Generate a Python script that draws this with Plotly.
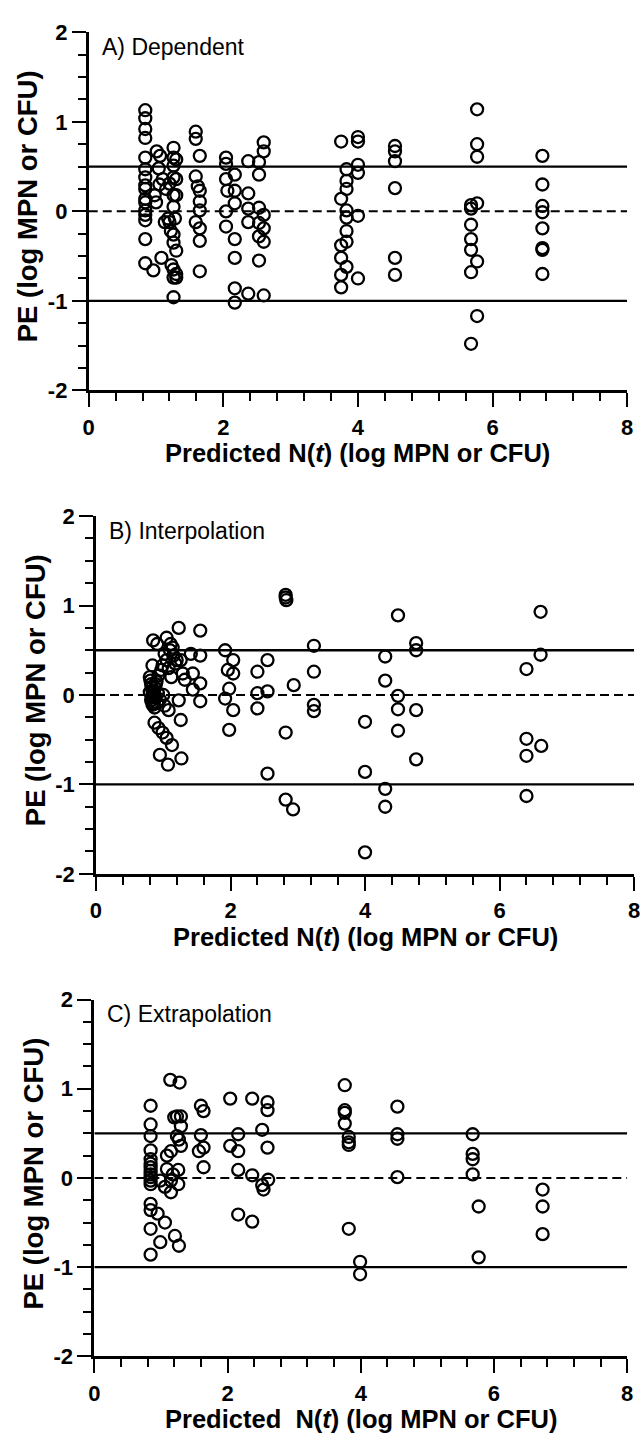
import plotly.graph_objects as go

# ---------------- data ----------------
a_x = [0.84]*16 + [1.01, 1.06, 1.10, 0.98, 1.08, 0.96, 1.13, 1.04, 1.05, 1.15, 1.00, 1.18] + \
      [1.26]*11 + [1.30]*6 + [1.20, 1.20, 1.22, 1.23, 1.28] + \
      [1.59, 1.59, 1.65, 1.59, 1.62, 1.65, 1.65, 1.65, 1.59, 1.65, 1.65, 1.65] + \
      [2.04, 2.04, 2.04, 2.06, 2.04, 2.04] + [2.17]*7 + [2.37]*5 + [2.53]*6 + [2.60]*6 + \
      [3.75]*6 + [3.83]*8 + [4.0]*6 + [4.55]*6 + [5.68]*7 + [5.77]*6 + [6.74]*8
a_y = [1.13, 1.04, 0.92, 0.82, 0.60, 0.47, 0.38, 0.29, 0.25, 0.14, 0.10, 0.01, -0.04, -0.10, -0.31, -0.58] + \
      [0.67, 0.62, 0.36, 0.18, -0.52, -0.66, -0.12, 0.48, 0.30, 0.25, 0.10, -0.08] + \
      [0.71, 0.60, 0.51, 0.38, 0.18, 0.05, -0.26, -0.35, -0.65, -0.74, -0.96] + \
      [0.58, 0.36, 0.18, -0.44, -0.74, -0.70] + [0.31, -0.12, -0.22, -0.60, -0.08] + \
      [0.89, 0.81, 0.62, 0.39, 0.28, 0.23, 0.11, 0.01, -0.12, -0.19, -0.33, -0.67] + \
      [0.60, 0.53, 0.36, 0.23, 0.00, -0.17] + [0.41, 0.23, 0.09, -0.31, -0.52, -0.86, -1.02] + \
      [0.56, 0.20, 0.03, -0.12, -0.92] + [0.55, 0.41, 0.04, -0.13, -0.28, -0.55] + \
      [0.77, 0.67, -0.04, -0.19, -0.34, -0.94] + \
      [0.78, 0.14, -0.38, -0.52, -0.71, -0.85] + [0.47, 0.34, 0.25, 0.01, -0.07, -0.22, -0.34, -0.62] + \
      [0.83, 0.78, 0.52, 0.43, -0.05, -0.75] + [0.73, 0.67, 0.56, 0.26, -0.52, -0.71] + \
      [0.07, 0.03, -0.15, -0.31, -0.43, -0.68, -1.48] + [1.14, 0.75, 0.61, 0.09, -0.56, -1.17] + \
      [0.62, 0.30, 0.06, -0.01, -0.19, -0.41, -0.43, -0.70]

b_x = [0.85, 0.91, 0.84, 1.05, 1.11, 1.14, 1.02, 1.05, 0.99, 1.20, 1.23, 1.26, 1.29, 1.32, 1.41, 1.44, 1.44,
       1.55, 1.55, 1.55, 1.55, 1.23, 1.08, 1.26, 0.87, 0.93, 0.99, 1.05, 1.13, 0.95, 1.07, 1.27,
       0.80, 0.82, 0.84, 0.83, 0.85, 0.87, 0.90, 0.92, 0.95, 0.88, 0.86, 0.93, 1.00, 1.02, 0.97,
       0.81, 0.83, 0.85, 0.86, 0.88, 0.82, 0.84, 0.89, 0.91, 0.80, 1.10, 1.15, 1.08, 1.18, 1.12,
       1.92, 1.96, 2.04, 2.04, 1.98, 1.92, 2.04, 1.98, 2.40, 2.40, 2.40, 2.55, 2.55, 2.55,
       2.82, 2.82, 2.83, 2.82, 2.82, 2.93, 2.94, 3.24, 3.24, 3.24, 3.24,
       4.00, 4.00, 4.00, 4.30, 4.30, 4.30, 4.30, 4.49, 4.49, 4.49, 4.49, 4.76, 4.76, 4.76, 4.76,
       6.40, 6.40, 6.40, 6.40, 6.61, 6.61, 6.62]
b_y = [0.61, 0.57, 0.33, 0.64, 0.57, 0.53, 0.46, 0.39, 0.33, 0.39, 0.75, 0.39, 0.24, 0.17, 0.46, 0.24, 0.06,
       0.72, 0.44, 0.13, -0.07, -0.06, -0.17, -0.28, -0.31, -0.37, -0.42, -0.48, -0.56, -0.67, -0.78, -0.71,
       0.20, 0.12, 0.05, -0.02, -0.08, -0.14, 0.15, 0.02, -0.05, 0.08, -0.10, 0.22, 0.00, -0.12, 0.28,
       0.16, 0.09, 0.00, 0.04, -0.03, -0.06, -0.11, 0.12, -0.09, 0.03, 0.50, 0.44, 0.30, 0.35, 0.20,
       0.50, 0.28, 0.39, 0.24, 0.07, -0.04, -0.17, -0.39, 0.26, 0.02, -0.15, 0.39, 0.04, -0.88,
       1.12, 1.09, 1.06, -0.42, -1.17, -1.28, 0.11, 0.55, 0.26, -0.11, -0.18,
       -0.30, -0.86, -1.76, 0.43, 0.16, -1.05, -1.25, 0.89, -0.01, -0.16, -0.40, 0.58, 0.50, -0.17, -0.72,
       0.29, -0.49, -0.68, -1.13, 0.45, 0.93, -0.57]

c_x = [0.845]*16 + [0.95, 1.06, 0.99, 0.99, 1.09, 1.15, 1.09, 1.15, 1.15, 1.06,
       1.14, 1.28, 1.20, 1.24, 1.30, 1.30, 1.24, 1.27, 1.30, 1.26, 1.26, 1.21, 1.27, 1.18,
       1.60, 1.64, 1.60, 1.57, 1.64, 1.64, 2.04, 2.04, 2.16, 2.16, 2.16, 2.16,
       2.37, 2.37, 2.37, 2.52, 2.52, 2.54, 2.60, 2.60, 2.60, 2.61,
       3.76, 3.76, 3.76, 3.76, 3.82, 3.82, 3.82, 3.82, 3.99, 3.99,
       4.55, 4.55, 4.55, 4.55, 5.68, 5.68, 5.68, 5.68, 5.77, 5.77, 6.73, 6.73, 6.73]
c_y = [0.81, 0.60, 0.47, 0.31, 0.21, 0.16, 0.12, 0.08, 0.04, 0.01, -0.03, -0.07, -0.29, -0.36, -0.57, -0.86] + \
      [-0.40, -0.50, -0.72, -0.03, 0.25, 0.30, 0.10, -0.03, -0.16, -0.10,
       1.10, 1.07, 0.68, 0.69, 0.69, 0.58, 0.47, 0.43, 0.36, 0.09, -0.07, -0.65, -0.76, 0.04,
       0.81, 0.75, 0.48, 0.30, 0.34, 0.12, 0.89, 0.36, 0.49, 0.30, 0.09, -0.41,
       0.89, 0.03, -0.49, 0.54, -0.08, -0.13, 0.85, 0.76, 0.34, -0.02,
       1.04, 0.76, 0.73, 0.61, 0.46, 0.40, 0.37, -0.57, -0.94, -1.08,
       0.80, 0.49, 0.44, 0.01, 0.49, 0.27, 0.21, 0.04, -0.32, -0.89, -0.13, -0.32, -0.63]

panel_labels = ["A) Dependent", "B) Interpolation", "C) Extrapolation"]
x_titles = ["Predicted N(<i>t</i>) (log MPN or CFU)",
            "Predicted N(<i>t</i>) (log MPN or CFU)",
            "Predicted\u00a0 N(<i>t</i>) (log MPN or CFU)"]
y_title = "PE (log MPN or CFU)"
x_tickvals = [0, 2, 4, 6, 8]
x_ticktext = ["0", "2", "4", "6", "8"]
y_tickvals = [-2, -1, 0, 1, 2]
y_ticktext = ["-2", "-1", "0", "1", "2"]
ref_solid = [0.5, -1.0]
ref_dash = [0.0]

# ---------------- layout (pixels) ----------------
W, H = 644, 1445
# (left, right, top, bottom) pixel edges of each plot area
boxes = [(84.3, 633.0, 20.7, 385.0),
         (91.7, 640.0, 513.0, 877.0),
         (90.0, 633.0, 1005.0, 1368.0)]

FONT = "Liberation Sans, Arial, Helvetica, sans-serif"
fig = go.Figure()
datasets = [(a_x, a_y), (b_x, b_y), (c_x, c_y)]

annotations = []
shapes = []
for i, ((xs, ys), (l, r, t, b)) in enumerate(zip(datasets, boxes)):
    n = "" if i == 0 else str(i + 1)
    xa, ya = "x" + n, "y" + n
    fig.add_trace(go.Scatter(
        x=xs, y=ys, mode="markers", xaxis=xa, yaxis=ya, showlegend=False,
        marker=dict(symbol="circle-open", size=12, color="black", line=dict(width=2.3, color="black")),
    ))
    axis_common = dict(showline=True, linewidth=2.8, linecolor="black", showgrid=False, zeroline=False,
                       ticks="outside", ticklen=14, tickwidth=2.2, tickcolor="black",
                       tickfont=dict(family=FONT, size=22, color="black", weight="bold"))
    fig.update_layout({
        "xaxis" + n: dict(axis_common, domain=[l / W, r / W], range=[0, 8], anchor=ya,
                          tickmode="array", tickvals=x_tickvals, ticktext=x_ticktext,
                          ticklabelstandoff=1,
                          minor=dict(ticks="outside", ticklen=8, tickwidth=2, tickcolor="black", tick0=0, dtick=0.4)),
        "yaxis" + n: dict(axis_common, domain=[1 - b / H, 1 - t / H], range=[-2, 2], anchor=xa,
                          tickmode="array", tickvals=y_tickvals, ticktext=y_ticktext,
                          minor=dict(ticks="outside", ticklen=8, tickwidth=2, tickcolor="black", tick0=0, dtick=0.25)),
    })
    for v in ref_solid:
        shapes.append(dict(type="line", xref=xa, yref=ya, x0=0, x1=8, y0=v, y1=v,
                           line=dict(color="black", width=2.4)))
    for v in ref_dash:
        shapes.append(dict(type="line", xref=xa, yref=ya, x0=0, x1=8, y0=v, y1=v,
                           line=dict(color="black", width=2, dash="9px,5px")))
    # panel label
    annotations.append(dict(text=panel_labels[i], xref="paper", yref="paper",
                            x=(l + 11) / W, y=1 - (t + 15) / H, xanchor="left", yanchor="middle",
                            showarrow=False, font=dict(family=FONT, size=23, color="black")))
    # x title
    annotations.append(dict(text=x_titles[i], xref="paper", yref="paper",
                            x=((l + r) / 2) / W, y=1 - (b + 64) / H, xanchor="center", yanchor="middle",
                            showarrow=False, font=dict(family=FONT, size=25.5, color="black", weight="bold")))
    # y title
    annotations.append(dict(text=y_title, xref="paper", yref="paper", textangle=-90,
                            x=(l - 62) / W, y=1 - ((t + b) / 2 - 5) / H, xanchor="center", yanchor="middle",
                            showarrow=False, font=dict(family=FONT, size=27.5, color="black", weight="bold")))

fig.update_layout(width=W, height=H, autosize=False, margin=dict(l=0, r=0, t=0, b=0, pad=0),
                  paper_bgcolor="white", plot_bgcolor="white",
                  annotations=annotations, shapes=shapes)

fig.write_html("out.html")
